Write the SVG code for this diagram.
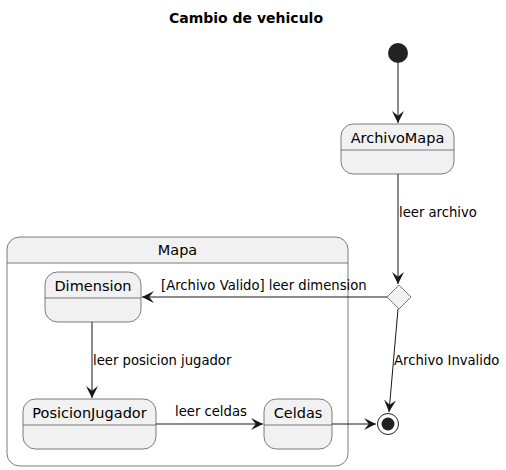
<svg xmlns="http://www.w3.org/2000/svg" width="506" height="470" viewBox="0 0 506 470">
<defs>
<style>
.st{fill:#F1F1F1;stroke:#5A5A5A;stroke-width:0.8}
.sep{stroke:#5A5A5A;stroke-width:0.8}
.nm{font-family:"DejaVu Sans",sans-serif;font-size:14.5px;fill:#000;text-anchor:middle}
.lb{font-family:"DejaVu Sans",sans-serif;font-size:13.2px;fill:#000}
.ln{stroke:#181818;stroke-width:1;fill:none}
</style>
<marker id="ah" markerUnits="userSpaceOnUse" markerWidth="12" markerHeight="12" refX="10" refY="5" orient="auto" viewBox="0 0 10 10">
<path d="M0,0 L10,5 L0,10 L4,5 Z" fill="#181818"/>
</marker>
</defs>
<rect width="506" height="470" fill="#FFFFFF"/>
<text x="246" y="23" font-family="DejaVu Sans,sans-serif" font-size="14" font-weight="bold" text-anchor="middle">Cambio de vehiculo</text>

<g id="start"><circle cx="398" cy="53" r="10" fill="#222222"/></g>

<g id="ArchivoMapa">
<rect class="st" x="341" y="124" width="113" height="50" rx="12.5"/>
<line class="sep" x1="341" y1="150" x2="454" y2="150"/>
<text class="nm" x="397.5" y="143">ArchivoMapa</text>
</g>

<g id="Mapa">
<path d="M7,263 V249.5 A12.5,12.5 0 0 1 19.5,237 H335.5 A12.5,12.5 0 0 1 348,249.5 V263 Z" fill="#F1F1F1"/>
<rect x="7" y="237" width="341" height="229" rx="12.5" fill="none" stroke="#5A5A5A" stroke-width="0.8"/>
<line class="sep" x1="7" y1="263" x2="348" y2="263"/>
<text class="nm" x="177.5" y="255">Mapa</text>
</g>

<g id="Dimension">
<rect class="st" x="45" y="272" width="96" height="50" rx="12.5"/>
<line class="sep" x1="45" y1="298" x2="141" y2="298"/>
<text class="nm" x="93" y="291">Dimension</text>
</g>

<g id="PosicionJugador">
<rect class="st" x="23" y="399" width="133" height="50" rx="12.5"/>
<line class="sep" x1="23" y1="425" x2="156" y2="425"/>
<text class="nm" x="89.5" y="418">PosicionJugador</text>
</g>

<g id="Celdas">
<rect class="st" x="264" y="399" width="68" height="50" rx="12.5"/>
<line class="sep" x1="264" y1="425" x2="332" y2="425"/>
<text class="nm" x="298" y="418">Celdas</text>
</g>

<g id="choice">
<polygon points="399,285 411,297 399,309 387,297" fill="#F1F1F1" stroke="#5A5A5A" stroke-width="0.8"/>
</g>

<g id="end">
<circle cx="388" cy="424" r="10.5" fill="none" stroke="#222222" stroke-width="1"/>
<circle cx="388" cy="424" r="6.5" fill="#222222"/>
</g>

<g id="connectors">
<line class="ln" x1="398" y1="63" x2="398" y2="123" marker-end="url(#ah)"/>
<line class="ln" x1="398" y1="174" x2="398" y2="284" marker-end="url(#ah)"/>
<text class="lb" x="399" y="217">leer archivo</text>
<line class="ln" x1="387" y1="297" x2="142" y2="297" marker-end="url(#ah)"/>
<text class="lb" x="161" y="290">[Archivo Valido] leer dimension</text>
<line class="ln" x1="92" y1="322" x2="92" y2="398" marker-end="url(#ah)"/>
<text class="lb" x="93" y="365">leer posicion jugador</text>
<line class="ln" x1="156" y1="424" x2="263" y2="424" marker-end="url(#ah)"/>
<text class="lb" x="175" y="416">leer celdas</text>
<line class="ln" x1="332" y1="424" x2="376" y2="424" marker-end="url(#ah)"/>
<line class="ln" x1="398" y1="309" x2="389" y2="412" marker-end="url(#ah)"/>
<text class="lb" x="394" y="365">Archivo Invalido</text>
</g>
</svg>
